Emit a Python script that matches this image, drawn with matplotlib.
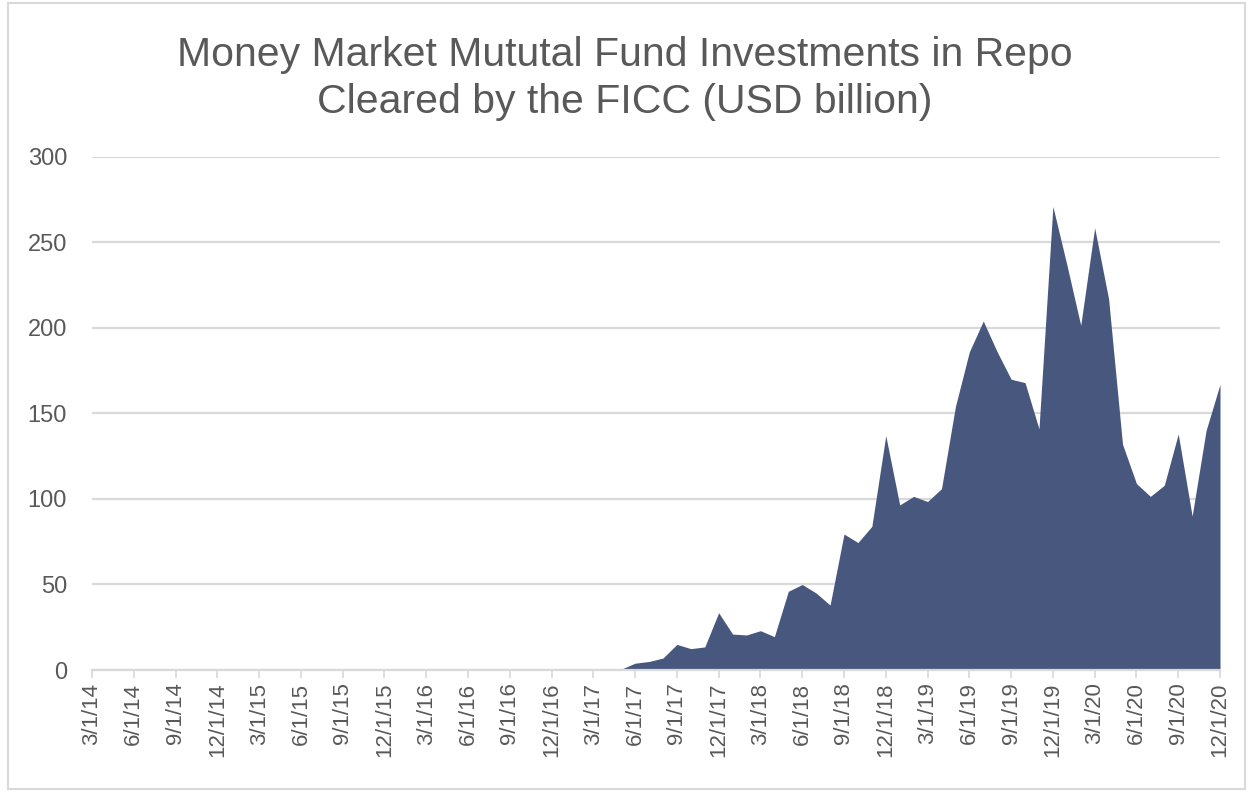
import matplotlib
matplotlib.use('Agg')
import matplotlib.pyplot as plt
import pandas as pd

plt.rcParams['font.family'] = ['Liberation Sans', 'DejaVu Sans']

# monthly, 3/1/14 .. 12/1/20
datas = pd.date_range('2014-03-01', '2020-12-01', freq='MS')
valores = [0] * 38 + [
    0.5, 4, 5, 7, 15, 12.5, 13.5, 33.5, 21, 20.5,
    23, 19.5, 46, 50, 45, 38, 79.5, 74.5, 84, 137,
    96.5, 101.5, 98.5, 106, 154, 186, 204, 186, 170, 168,
    141, 271, 237, 201.5, 258.5, 217, 132, 109, 101.5, 108,
    138, 90, 140, 167,
]
rotulos = [f'{d.month}/1/{d.year % 100}' for d in datas]

cor_area = '#47577D'
cinza = '#595959'

fig = plt.figure(figsize=(12.5, 7.92), dpi=100)
ax = fig.add_axes([0.0736, 0.154, 0.9024, 0.648])

indice = list(range(len(valores)))
ax.fill_between(indice, valores, 0, color=cor_area, linewidth=0)

ax.set_xlim(0, len(valores) - 1)
ax.set_ylim(0, 300)
ax.set_yticks(range(0, 301, 50))
ax.tick_params(axis='y', length=0, labelsize=17, labelcolor=cinza, pad=18)
ax.set_xticks(indice[::3])
ax.set_xticklabels(rotulos[::3], rotation=90)
ax.tick_params(axis='x', length=6, width=1.2, color='#D9D9D9',
               labelsize=16, labelcolor=cinza, pad=3)

ax.grid(axis='y', color='#D9D9D9', linewidth=1.6)
ax.set_axisbelow(True)
for lado in ['top', 'right', 'left']:
    ax.spines[lado].set_visible(False)
ax.spines['bottom'].set_color('#D9D9D9')
ax.spines['bottom'].set_linewidth(1.6)

fig.text(0.5, 0.901, 'Money Market Mututal Fund Investments in Repo\nCleared by the FICC (USD billion)',
         ha='center', va='center', fontsize=29.5, color=cinza, linespacing=1.3)

# chart border like the spreadsheet frame
borda = plt.Rectangle((0.006, 0.004), 0.99, 0.992, transform=fig.transFigure,
                      fill=False, edgecolor='#D9D9D9', linewidth=1.5)
fig.patches.append(borda)

fig.savefig('out.png', dpi=100)
